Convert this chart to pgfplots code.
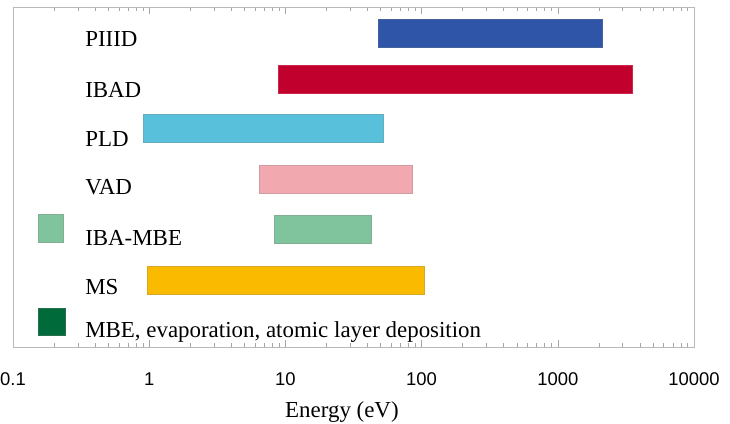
\documentclass[border=0pt]{standalone}
\usepackage{fontspec}
\setmainfont{Liberation Serif}
\newfontfamily\arial{Liberation Sans}
\usepackage{pgfplots}
\pgfplotsset{compat=1.18}
\definecolor{cPIIID}{HTML}{2E55A8}
\definecolor{cIBAD}{HTML}{C1002D}
\definecolor{cPLD}{HTML}{58C0DA}
\definecolor{cVAD}{HTML}{F2A8AF}
\definecolor{cIBAMBE}{HTML}{80C49E}
\definecolor{cMS}{HTML}{F9BA00}
\definecolor{cMBE}{HTML}{006A3A}
\begin{document}
\begin{tikzpicture}
\begin{axis}[
  scale only axis, width=681bp, height=340bp,
  xmode=log, xmin=0.1, xmax=10000,
  ymin=7, ymax=347, y dir=reverse,
  ytick=\empty,
  xtick={0.1,1,10,100,1000,10000},
  xticklabels={0.1,1,10,100,1000,10000},
  minor xtick={0.2,0.3,0.4,0.5,0.6,0.7,0.8,0.9,2,3,4,5,6,7,8,9,20,30,40,50,60,70,80,90,200,300,400,500,600,700,800,900,2000,3000,4000,5000,6000,7000,8000,9000},
  tick align=inside, xtick pos=both,
  major tick length=7bp, minor tick length=4bp,
  axis line style={draw=black!28, line width=0.8bp},
  tick style={black!35, line width=0.6bp},
  /pgf/number format/assume math mode=true,
  xticklabel style={font=\arial\fontsize{18.5}{21}\selectfont, anchor=base, yshift=-38bp},
  xlabel={Energy (eV)},
  xlabel style={font=\fontsize{23}{26}\selectfont, anchor=base, at={(axis description cs:0.483,0)}, yshift=-70bp},
  clip=false,
]
% bars: (xmin,ytop) ... (xmax,ybottom), y in image pixel rows
\addplot[fill=cPIIID, draw=cPIIID!70!gray, line width=0.8bp] coordinates {(48.3,19) (2143,19) (2143,47) (48.3,47)} -- cycle;
\addplot[fill=cIBAD, draw=cIBAD!80!pink, line width=0.8bp] coordinates {(8.88,65) (3500,65) (3500,93) (8.88,93)} -- cycle;
\addplot[fill=cPLD, draw=cPLD!70!gray, line width=0.8bp] coordinates {(0.903,114) (52.6,114) (52.6,142) (0.903,142)} -- cycle;
\addplot[fill=cVAD, draw=cVAD!70!gray, line width=0.8bp] coordinates {(6.44,165) (85.9,165) (85.9,193) (6.44,193)} -- cycle;
\addplot[fill=cIBAMBE, draw=cIBAMBE!70!gray, line width=0.8bp] coordinates {(8.30,215) (42.9,215) (42.9,243) (8.30,243)} -- cycle;
\addplot[fill=cMS, draw=cMS!70!gray, line width=0.8bp] coordinates {(0.967,266) (105,266) (105,294) (0.967,294)} -- cycle;
% legend squares
\addplot[fill=cIBAMBE, draw=cIBAMBE!70!gray, line width=0.8bp] coordinates {(0.1527,214) (0.2332,214) (0.2332,242) (0.1527,242)} -- cycle;
\addplot[fill=cMBE, draw=cMBE!70!gray, line width=0.8bp] coordinates {(0.1527,308) (0.2412,308) (0.2412,335) (0.1527,335)} -- cycle;
% labels
\begin{scope}[every node/.style={anchor=base west, inner sep=0pt, font=\fontsize{23}{26}\selectfont}]
\node at (axis cs:0.3383,46) {PIIID};
\node at (axis cs:0.3383,97) {IBAD};
\node at (axis cs:0.3383,146) {PLD};
\node at (axis cs:0.3383,194) {VAD};
\node at (axis cs:0.3383,245) {IBA-MBE};
\node at (axis cs:0.3383,294) {MS};
\node at (axis cs:0.3383,337) {MBE, evaporation, atomic layer deposition};
\end{scope}
\end{axis}
\pgfresetboundingbox
\path[use as bounding box] ([xshift=-13bp,yshift=-77bp]current axis.south west) rectangle ([xshift=36bp,yshift=7bp]current axis.north east);
\end{tikzpicture}
\end{document}
